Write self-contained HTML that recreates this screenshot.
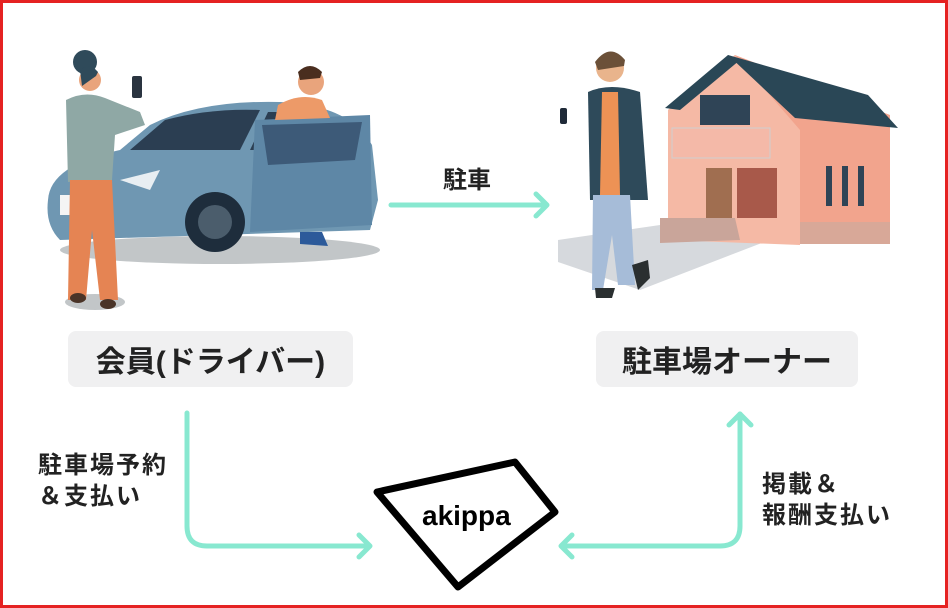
<!DOCTYPE html>
<html><head><meta charset="utf-8"><style>
html,body{margin:0;padding:0;background:#fff}
body{width:948px;height:608px;position:relative;overflow:hidden;font-family:"Liberation Sans","Noto Sans CJK JP",sans-serif}
.frame{position:absolute;left:0;top:0;width:942px;height:602px;border:3px solid #e52222}
.t{position:absolute;color:#222;font-weight:bold;white-space:nowrap}
.box{position:absolute;background:#f0f0f1;border-radius:8px;display:flex;align-items:center;justify-content:center;font-weight:bold;font-size:30px;color:#222}
</style></head><body>
<svg width="948" height="608" style="position:absolute;left:0;top:0">
<ellipse cx="220" cy="250" rx="160" ry="14" fill="#9aa0a3" opacity=".6"/>
<path d="M48 200 Q50 165 120 150 L150 125 Q200 100 280 102 Q350 105 372 145 L378 200 L370 230 L60 240 Q45 225 48 200Z" fill="#6f97b2"/>
<path d="M130 150 L165 120 Q210 108 260 110 L240 150Z" fill="#2b3e52"/>
<path d="M250 150 L268 112 L300 112 L292 150Z" fill="#2b3e52"/>
<path d="M255 120 L370 115 L372 225 L250 232Z" fill="#5e87a6"/>
<path d="M262 125 L362 122 L355 160 L268 165Z" fill="#3d5a78"/>
<circle cx="215" cy="222" r="30" fill="#1e2d3c"/>
<circle cx="215" cy="222" r="17" fill="#4b5d6c"/>
<path d="M120 180 L160 170 L150 190Z" fill="#e8eef2"/>
<rect x="60" y="195" width="14" height="20" fill="#f4f4f4"/>
<circle cx="311" cy="82" r="13" fill="#e9a47c"/>
<path d="M298 72 Q310 60 322 72 L320 78 L300 80Z" fill="#4a2e1f"/>
<path d="M278 105 Q300 92 322 100 L330 118 L275 120Z" fill="#ed9a68"/>
<path d="M300 232 L322 232 L328 246 L300 244Z" fill="#2c5a9a"/>
<ellipse cx="95" cy="302" rx="30" ry="8" fill="#9aa0a3" opacity=".6"/>
<circle cx="85" cy="62" r="12" fill="#2f4a5a"/>
<circle cx="90" cy="80" r="11" fill="#e9a47c"/>
<path d="M80 70 Q90 62 98 72 L96 76 L82 86Z" fill="#2f4a5a"/>
<path d="M66 100 Q85 90 105 98 L140 112 L145 125 L115 135 L112 180 L68 182Z" fill="#8fa8a5"/>
<rect x="132" y="76" width="10" height="22" rx="2" fill="#2a3440"/>
<path d="M70 180 L112 180 L118 300 L100 300 L92 230 L86 300 L68 300Z" fill="#e58453"/>
<ellipse cx="78" cy="298" rx="8" ry="5" fill="#4a3428"/>
<ellipse cx="108" cy="304" rx="8" ry="5" fill="#4a3428"/>
<g stroke="#88e8d0" stroke-width="5" fill="none" stroke-linecap="round" stroke-linejoin="round">
<path d="M391 205 L546 205"/><path d="M536 194 L547 205 L536 216"/>
<path d="M187 413 L187 526 Q187 546 207 546 L369 546"/><path d="M359 535 L370 546 L359 557"/>
<path d="M740 414 L740 526 Q740 546 720 546 L562 546"/><path d="M572 535 L561 546 L572 557"/>
<path d="M729 425 L740 414 L751 425"/>
</g>
<path d="M558 240 L660 225 L790 232 L640 290 L558 262Z" fill="#d6d9dd"/>
<path d="M668 110 L735 55 L890 115 L890 230 L668 240Z" fill="#f2a48d"/>
<path d="M668 110 L735 55 L800 130 L800 245 L668 240Z" fill="#f5b9a5"/>
<path d="M665 108 L728 55 L740 60 L680 110Z" fill="#2a4756"/>
<path d="M728 55 L868 95 L898 128 L795 118Z" fill="#2a4756"/>
<rect x="672" y="128" width="98" height="30" fill="#f4b9a8" stroke="#cfcfcf"/>
<rect x="700" y="95" width="50" height="30" fill="#2f4456"/>
<rect x="706" y="168" width="26" height="50" fill="#a06e50"/>
<rect x="737" y="168" width="40" height="50" fill="#a8594a"/>
<rect x="826" y="166" width="6" height="40" fill="#2f4456"/>
<rect x="842" y="166" width="6" height="40" fill="#2f4456"/>
<rect x="858" y="166" width="6" height="40" fill="#2f4456"/>
<path d="M660 218 L735 218 L740 240 L660 243Z" fill="#c9a59a"/>
<rect x="800" y="222" width="90" height="22" fill="#d8a898"/>
<circle cx="610" cy="68" r="14" fill="#e9b48c"/>
<path d="M595 62 Q610 42 625 60 L624 66 L598 70Z" fill="#6b5038"/>
<path d="M588 92 Q610 82 640 92 L648 200 L590 200Z" fill="#2e4a5a"/>
<path d="M602 92 L618 92 L620 195 L600 195Z" fill="#ed9255"/>
<rect x="560" y="108" width="7" height="16" rx="2" fill="#1f2a38"/>
<path d="M593 195 L630 195 L635 285 L618 285 L612 235 L603 290 L592 290Z" fill="#a6bcd8"/>
<path d="M595 288 L615 288 L612 298 L596 298Z" fill="#2a2f30"/>
<path d="M632 265 L648 260 L650 278 L638 290Z" fill="#2a2f30"/>
<polygon points="377,492 515,462 555,512 458,587" fill="#fff" stroke="#000" stroke-width="7" stroke-linejoin="round"/>
</svg>
<div class="frame"></div>
<div class="t" style="left:443px;top:160px;font-size:24px">駐車</div>
<div class="box" style="left:68px;top:331px;width:285px;height:56px">会員(ドライバー)</div>
<div class="box" style="left:596px;top:331px;width:262px;height:56px">駐車場オーナー</div>
<div class="t" style="left:38px;top:450px;font-size:24px;line-height:31px;letter-spacing:2px">駐車場予約<br>＆支払い</div>
<div class="t" style="left:762px;top:469px;font-size:24px;line-height:31px;letter-spacing:2px">掲載＆<br>報酬支払い</div>
<div class="t" style="left:422px;top:500px;font-size:28px;color:#000">akippa</div>
</body></html>
